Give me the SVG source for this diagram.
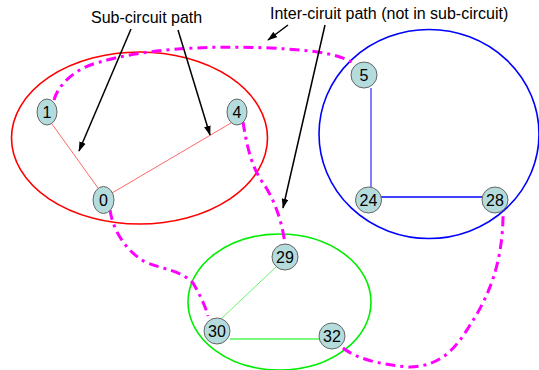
<svg xmlns="http://www.w3.org/2000/svg" width="539" height="370" viewBox="0 0 539 370">
<defs>
<marker id="ah" viewBox="0 0 12 8" refX="11" refY="4" markerWidth="10" markerHeight="7" orient="auto" markerUnits="userSpaceOnUse">
<path d="M0,0 L12,4 L0,8 z" fill="#000"/>
</marker>
<style>
.node ellipse{fill:#B4DCDC;stroke:#666;stroke-width:1}
.node text{font-family:"Liberation Sans",Arial,sans-serif;font-size:16px;fill:#000;text-anchor:middle}
.lbl{font-family:"Liberation Sans",Arial,sans-serif;font-size:16px;fill:#000}
.inter{fill:none;stroke:#FF00FF;stroke-width:3;stroke-dasharray:10 5 3 5}
.arr{stroke:#000;stroke-width:1.5;fill:none;marker-end:url(#ah)}
</style>
</defs>
<rect width="539" height="370" fill="#fff"/>
<g id="regions">
<ellipse cx="139.5" cy="138" rx="128" ry="86" fill="none" stroke="#FF0000" stroke-width="1.6"/>
<ellipse cx="429" cy="134" rx="110" ry="104.5" fill="none" stroke="#0000FF" stroke-width="1.6"/>
<ellipse cx="279.5" cy="302" rx="91.5" ry="68" fill="none" stroke="#00EE00" stroke-width="1.6"/>
</g>
<g id="connectors">
<line x1="52" y1="124" x2="98" y2="188" stroke="#FF0000" stroke-width="0.6"/>
<line x1="231" y1="123" x2="112" y2="193" stroke="#FF0000" stroke-width="0.6"/>
<line x1="371" y1="88" x2="371" y2="187" stroke="#0000FF" stroke-width="1"/>
<line x1="381" y1="197" x2="482" y2="197" stroke="#0000FF" stroke-width="1.5"/>
<line x1="277" y1="266" x2="222" y2="318" stroke="#00EE00" stroke-width="0.6"/>
<line x1="230" y1="339" x2="319" y2="339" stroke="#00EE00" stroke-width="1"/>
<path class="inter" d="M54,100 C58,85 75,68 100,62 C140,50 200,45 270,48 C310,50 335,53 352,62"/>
<path class="inter" d="M243,122 C246,140 250,165 263,183 C275,200 283,225 285,245"/>
<path class="inter" d="M110,210 C113,230 125,250 145,262 C165,270 180,270 193,283 C200,295 205,305 208,316"/>
<path class="inter" d="M343,348 C355,358 380,365 410,367 C440,366 455,350 470,325 C490,295 502,262 503,218 L504,211"/>
<path class="arr" d="M131,29 L79,151"/>
<path class="arr" d="M178,30 L210,135"/>
<path class="arr" d="M288,25 L268,40"/>
<path class="arr" d="M325,25 L283,208"/>
</g>
<g id="n1" class="node"><ellipse cx="47" cy="112" rx="10" ry="13"/><text x="47" y="118">1</text></g>
<g id="n4" class="node"><ellipse cx="237" cy="112" rx="10" ry="13"/><text x="237" y="118">4</text></g>
<g id="n0" class="node"><ellipse cx="103.5" cy="200" rx="10.5" ry="13.5"/><text x="103.5" y="206">0</text></g>
<g id="n5" class="node"><ellipse cx="364" cy="75" rx="13" ry="13"/><text x="364" y="81">5</text></g>
<g id="n24" class="node"><ellipse cx="368.5" cy="200" rx="13" ry="13"/><text x="368.5" y="206">24</text></g>
<g id="n28" class="node"><ellipse cx="495" cy="200" rx="13" ry="13"/><text x="495" y="206">28</text></g>
<g id="n29" class="node"><ellipse cx="285" cy="257" rx="13" ry="13"/><text x="285" y="263">29</text></g>
<g id="n30" class="node"><ellipse cx="217" cy="331" rx="13" ry="13"/><text x="217" y="337">30</text></g>
<g id="n32" class="node"><ellipse cx="332" cy="336" rx="13" ry="13"/><text x="332" y="342">32</text></g>
<text class="lbl" x="91" y="23">Sub-circuit path</text>
<text class="lbl" x="270" y="19">Inter-ciruit path (not in sub-circuit)</text>
</svg>
